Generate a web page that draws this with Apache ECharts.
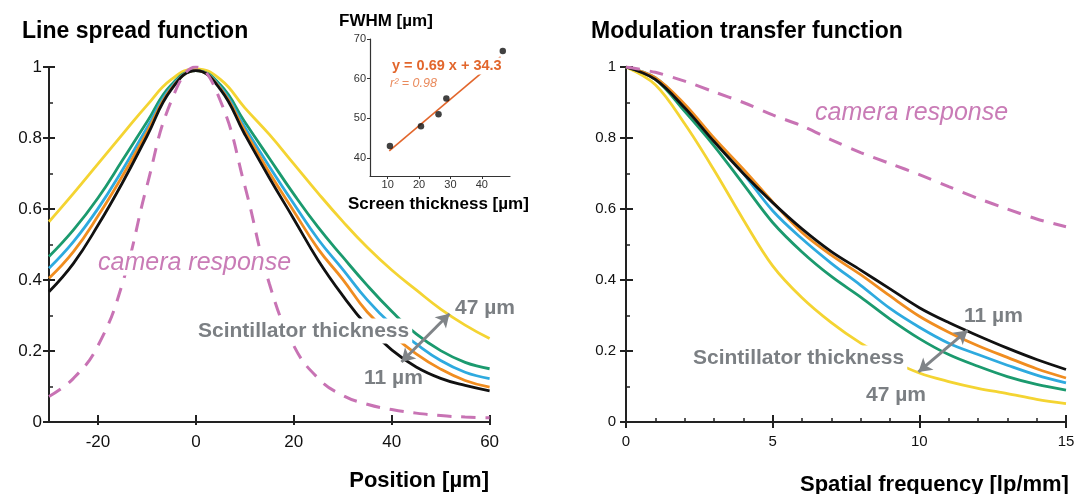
<!DOCTYPE html>
<html>
<head>
<meta charset="utf-8">
<script src="https://cdn.jsdelivr.net/npm/echarts@6/dist/echarts.min.js"></script>
<style>
  html, body { margin: 0; background: #fff; }
  #chart { width: 1085px; height: 494px; }
</style>
</head>
<body>
<div id="chart"></div>
<script>
// line spread function, position in µm
const lsfPosition = [-30, -25, -20, -15, -10, -5, 0, 5, 10, 15, 20, 25, 30, 35, 40, 45, 50, 55, 60]
const lsf47 = [0.564, 0.644, 0.727, 0.81, 0.892, 0.965, 0.995, 0.965, 0.885, 0.81, 0.727, 0.644, 0.565, 0.492, 0.428, 0.372, 0.318, 0.273, 0.235]
const lsf29 = [0.466, 0.541, 0.631, 0.737, 0.845, 0.95, 0.99, 0.95, 0.845, 0.743, 0.642, 0.548, 0.465, 0.385, 0.312, 0.248, 0.201, 0.168, 0.15]
const lsf26 = [0.433, 0.508, 0.601, 0.71, 0.828, 0.944, 0.99, 0.944, 0.83, 0.72, 0.615, 0.514, 0.43, 0.344, 0.274, 0.22, 0.173, 0.14, 0.122]
const lsf21 = [0.405, 0.48, 0.58, 0.693, 0.816, 0.94, 0.99, 0.94, 0.82, 0.703, 0.594, 0.487, 0.402, 0.31, 0.247, 0.192, 0.149, 0.117, 0.098]
const lsf11 = [0.367, 0.447, 0.554, 0.674, 0.805, 0.937, 0.99, 0.937, 0.81, 0.688, 0.572, 0.455, 0.356, 0.27, 0.203, 0.155, 0.123, 0.103, 0.088]
const lsfCamera = [0.072, 0.123, 0.215, 0.39, 0.665, 0.905, 1, 0.905, 0.665, 0.39, 0.215, 0.123, 0.075, 0.05, 0.035, 0.025, 0.018, 0.014, 0.012]

// modulation transfer function, lp/mm
const mtfFreq = [0, 1, 2, 3, 4, 5, 6, 7, 8, 9, 10, 11, 12, 13, 14, 15]
const mtf47 = [1, 0.95, 0.84, 0.71, 0.57, 0.44, 0.35, 0.28, 0.222, 0.175, 0.138, 0.114, 0.095, 0.08, 0.064, 0.052]
const mtf29 = [1, 0.965, 0.875, 0.778, 0.67, 0.562, 0.479, 0.41, 0.352, 0.29, 0.235, 0.19, 0.157, 0.128, 0.106, 0.09]
const mtf26 = [1, 0.97, 0.89, 0.795, 0.7, 0.595, 0.516, 0.447, 0.385, 0.32, 0.267, 0.222, 0.19, 0.16, 0.132, 0.11]
const mtf21 = [1, 0.97, 0.895, 0.8, 0.712, 0.62, 0.534, 0.47, 0.415, 0.355, 0.298, 0.253, 0.215, 0.182, 0.15, 0.124]
const mtf11 = [1, 0.965, 0.885, 0.79, 0.7, 0.618, 0.544, 0.48, 0.428, 0.375, 0.322, 0.28, 0.243, 0.208, 0.176, 0.148]
const mtfCamera = [1, 0.985, 0.96, 0.93, 0.9, 0.865, 0.834, 0.795, 0.759, 0.728, 0.697, 0.663, 0.63, 0.6, 0.572, 0.55]

// inset: FWHM vs screen thickness
const screenThickness = [10.7, 20.6, 26.2, 28.7, 46.7]
const fwhm = [43, 48, 51, 55, 67]
const fitThickness = [10.5, 46]
const fitFwhm = [41.8, 65.5]

// tick labels
const lsfTicks = [-20, 0, 20, 40, 60]
const insetXTicks = [10, 20, 30, 40]
const insetYTicks = [40, 50, 60, 70]

// thickness arrows (data coords)
const lsfArrow = [[42.0, 0.169], [51.8, 0.305]]
const mtfArrow = [[9.97, 0.141], [11.64, 0.258]]

const FONT = '"Liberation Sans", Arial, Helvetica, sans-serif'
const colors = { y: '#f4d432', g: '#1b9a6e', b: '#2eaadf', o: '#f08d20', k: '#111111', cam: '#c873b4' }
const gray = '#7b7f83'
const axisColor = '#222'

const pairs = (xs, ys) => xs.map((x, i) => [x, ys[i]])

function curve(name, xs, ys, color, idx, extra) {
  return Object.assign({
    name,
    type: 'line',
    xAxisIndex: idx,
    yAxisIndex: idx,
    data: pairs(xs, ys),
    showSymbol: false,
    smooth: 0.45,
    silent: true,
    lineStyle: { color, width: 2.8 },
    itemStyle: { color }
  }, extra || {})
}

function arrowMark(pts) {
  return {
    silent: true,
    symbol: ['arrow', 'arrow'],
    symbolSize: [12, 13],
    label: { show: false },
    lineStyle: { color: '#808488', width: 3, type: 'solid' },
    data: [[{ coord: pts[0] }, { coord: pts[1] }]]
  }
}

function mainAxis(grid, min, max, extra) {
  return Object.assign({
    gridIndex: grid, type: 'value', min, max,
    axisLine: { onZero: false, lineStyle: { color: axisColor, width: 2 } },
    axisTick: { length: 5, lineStyle: { color: axisColor, width: 2 } },
    splitLine: { show: false }
  }, extra)
}

// second axis on the same side, only for ticks drawn inside the plot
function dupAxis(grid, min, max, position, extra) {
  return Object.assign({
    gridIndex: grid, type: 'value', min, max, position,
    axisLine: { show: false, onZero: false },
    axisLabel: { show: false },
    axisTick: { inside: true, length: 7, lineStyle: { color: axisColor, width: 2 } },
    splitLine: { show: false }
  }, extra)
}

function txt(text, x, y, font, fill, extra) {
  return {
    type: 'text', x, y, z: 100, silent: true,
    style: Object.assign({ text, font, fill, align: 'left', verticalAlign: 'middle' }, extra || {})
  }
}

const chart = echarts.init(document.getElementById('chart'))

const option = {
  animation: false,
  backgroundColor: '#fff',
  title: [
    { text: 'Line spread function', left: 22, top: 20, padding: 0, textStyle: { fontFamily: FONT, fontSize: 23, fontWeight: 'bold', color: '#000' } },
    { text: 'Modulation transfer function', left: 591, top: 20, padding: 0, textStyle: { fontFamily: FONT, fontSize: 23, fontWeight: 'bold', color: '#000' } }
  ],
  grid: [
    { left: 49, top: 67, width: 440.6, height: 355 },
    { left: 626, top: 67, width: 440, height: 355 },
    { left: 370, top: 39, width: 140, height: 137 }
  ],
  xAxis: [
    mainAxis(0, -30, 60, {
      position: 'bottom',
      axisTick: { customValues: lsfTicks, length: 3, lineStyle: { color: axisColor, width: 2 } },
      axisLabel: { customValues: lsfTicks, fontFamily: FONT, fontSize: 17, color: '#111', margin: 12 }
    }),
    dupAxis(0, -30, 60, 'bottom', { axisTick: { customValues: lsfTicks, inside: true, length: 7, lineStyle: { color: axisColor, width: 2 } } }),
    mainAxis(1, 0, 15, {
      position: 'bottom',
      interval: 5,
      axisTick: { length: 6, lineStyle: { color: axisColor, width: 2 } },
      axisLabel: { fontFamily: FONT, fontSize: 15, color: '#111', margin: 12 }
    }),
    dupAxis(1, 0, 15, 'bottom', {
      interval: 5,
      minorTick: { show: true, splitNumber: 5, length: 4, lineStyle: { color: axisColor, width: 1.5 } }
    }),
    {
      gridIndex: 2, type: 'value', min: 4.35, max: 49, position: 'bottom',
      axisLine: { onZero: false, lineStyle: { color: '#333', width: 1.2 } },
      axisTick: { customValues: insetXTicks, length: 3, lineStyle: { color: '#333' } },
      axisLabel: { customValues: insetXTicks, fontFamily: FONT, fontSize: 11, color: '#333', margin: 3 },
      splitLine: { show: false }
    }
  ],
  yAxis: [
    mainAxis(0, 0, 1, {
      position: 'left',
      interval: 0.2,
      axisTick: { length: 6, lineStyle: { color: axisColor, width: 2 } },
      axisLabel: { fontFamily: FONT, fontSize: 17, color: '#111', margin: 7 }
    }),
    dupAxis(0, 0, 1, 'left', {
      interval: 0.2,
      axisTick: { inside: true, length: 6, lineStyle: { color: axisColor, width: 2 } },
      minorTick: { show: true, splitNumber: 2, length: 4, lineStyle: { color: axisColor, width: 1.5 } }
    }),
    mainAxis(1, 0, 1, {
      position: 'left',
      interval: 0.2,
      axisTick: { length: 6, lineStyle: { color: axisColor, width: 2 } },
      axisLabel: { fontFamily: FONT, fontSize: 15, color: '#111', margin: 10 }
    }),
    dupAxis(1, 0, 1, 'left', {
      interval: 0.2,
      axisTick: { inside: true, length: 7, lineStyle: { color: axisColor, width: 2 } },
      minorTick: { show: true, splitNumber: 2, length: 4, lineStyle: { color: axisColor, width: 1.5 } }
    }),
    {
      gridIndex: 2, type: 'value', min: 35.45, max: 70, position: 'left',
      axisLine: { onZero: false, lineStyle: { color: '#333', width: 1.2 } },
      axisTick: { customValues: insetYTicks, length: 3, lineStyle: { color: '#333' } },
      axisLabel: { customValues: insetYTicks, fontFamily: FONT, fontSize: 11, color: '#333', margin: 4 },
      splitLine: { show: false }
    }
  ],
  series: [
    curve('47 µm', lsfPosition, lsf47, colors.y, 0),
    curve('29 µm', lsfPosition, lsf29, colors.g, 0),
    curve('26 µm', lsfPosition, lsf26, colors.b, 0),
    curve('21 µm', lsfPosition, lsf21, colors.o, 0),
    curve('11 µm', lsfPosition, lsf11, colors.k, 0),
    curve('camera response', lsfPosition, lsfCamera, colors.cam, 0, {
      lineStyle: { color: colors.cam, width: 3, type: [14, 10] },
      markLine: arrowMark(lsfArrow)
    }),

    curve('47 µm', mtfFreq, mtf47, colors.y, 2, { smooth: 0.35 }),
    curve('29 µm', mtfFreq, mtf29, colors.g, 2, { smooth: 0.35 }),
    curve('26 µm', mtfFreq, mtf26, colors.b, 2, { smooth: 0.35 }),
    curve('21 µm', mtfFreq, mtf21, colors.o, 2, { smooth: 0.35 }),
    curve('11 µm', mtfFreq, mtf11, colors.k, 2, { smooth: 0.35 }),
    curve('camera response', mtfFreq, mtfCamera, colors.cam, 2, {
      smooth: 0.3,
      lineStyle: { color: colors.cam, width: 3, type: [14, 10] },
      markLine: arrowMark(mtfArrow)
    }),

    {
      name: 'fit', type: 'line', xAxisIndex: 4, yAxisIndex: 4,
      data: pairs(fitThickness, fitFwhm), showSymbol: false, silent: true,
      lineStyle: { color: '#e2662c', width: 1.6 }
    },
    {
      name: 'FWHM', type: 'scatter', xAxisIndex: 4, yAxisIndex: 4,
      data: pairs(screenThickness, fwhm), symbolSize: 6.5, silent: true,
      itemStyle: { color: '#111' }, z: 5
    }
  ],
  graphic: [
    txt('Position [µm]', 489, 481, 'bold 22px ' + FONT, '#000', { align: 'right' }),
    txt('Spatial frequency [lp/mm]', 800, 485, 'bold 22px ' + FONT, '#000'),
    txt('FWHM [µm]', 339, 21, 'bold 17px ' + FONT, '#000'),
    txt('Screen thickness [µm]', 348, 204, 'bold 17px ' + FONT, '#000'),
    txt('y = 0.69 x + 34.3', 390, 66, 'bold 14.5px ' + FONT, '#e2662c', { backgroundColor: '#fff', padding: [1, 2] }),
    txt('r² = 0.98', 390, 84, 'italic 12.5px ' + FONT, '#ea8a5c'),
    txt('camera response', 96, 263, 'italic 25px ' + FONT, '#c97bb6', { backgroundColor: '#fff', padding: [0, 2] }),
    txt('camera response', 813, 113, 'italic 25px ' + FONT, '#c97bb6', { backgroundColor: '#fff', padding: [0, 2] }),
    txt('Scintillator thickness', 195, 331, 'bold 21px ' + FONT, gray, { backgroundColor: '#fff', padding: [2, 3] }),
    txt('47 µm', 455, 308, 'bold 21px ' + FONT, gray),
    txt('11 µm', 364, 378, 'bold 21px ' + FONT, gray),
    txt('Scintillator thickness', 690, 358, 'bold 21px ' + FONT, gray, { backgroundColor: '#fff', padding: [2, 3] }),
    txt('11 µm', 964, 316, 'bold 21px ' + FONT, gray),
    txt('47 µm', 866, 395, 'bold 21px ' + FONT, gray)
  ]
}

chart.setOption(option)
</script>
</body>
</html>
